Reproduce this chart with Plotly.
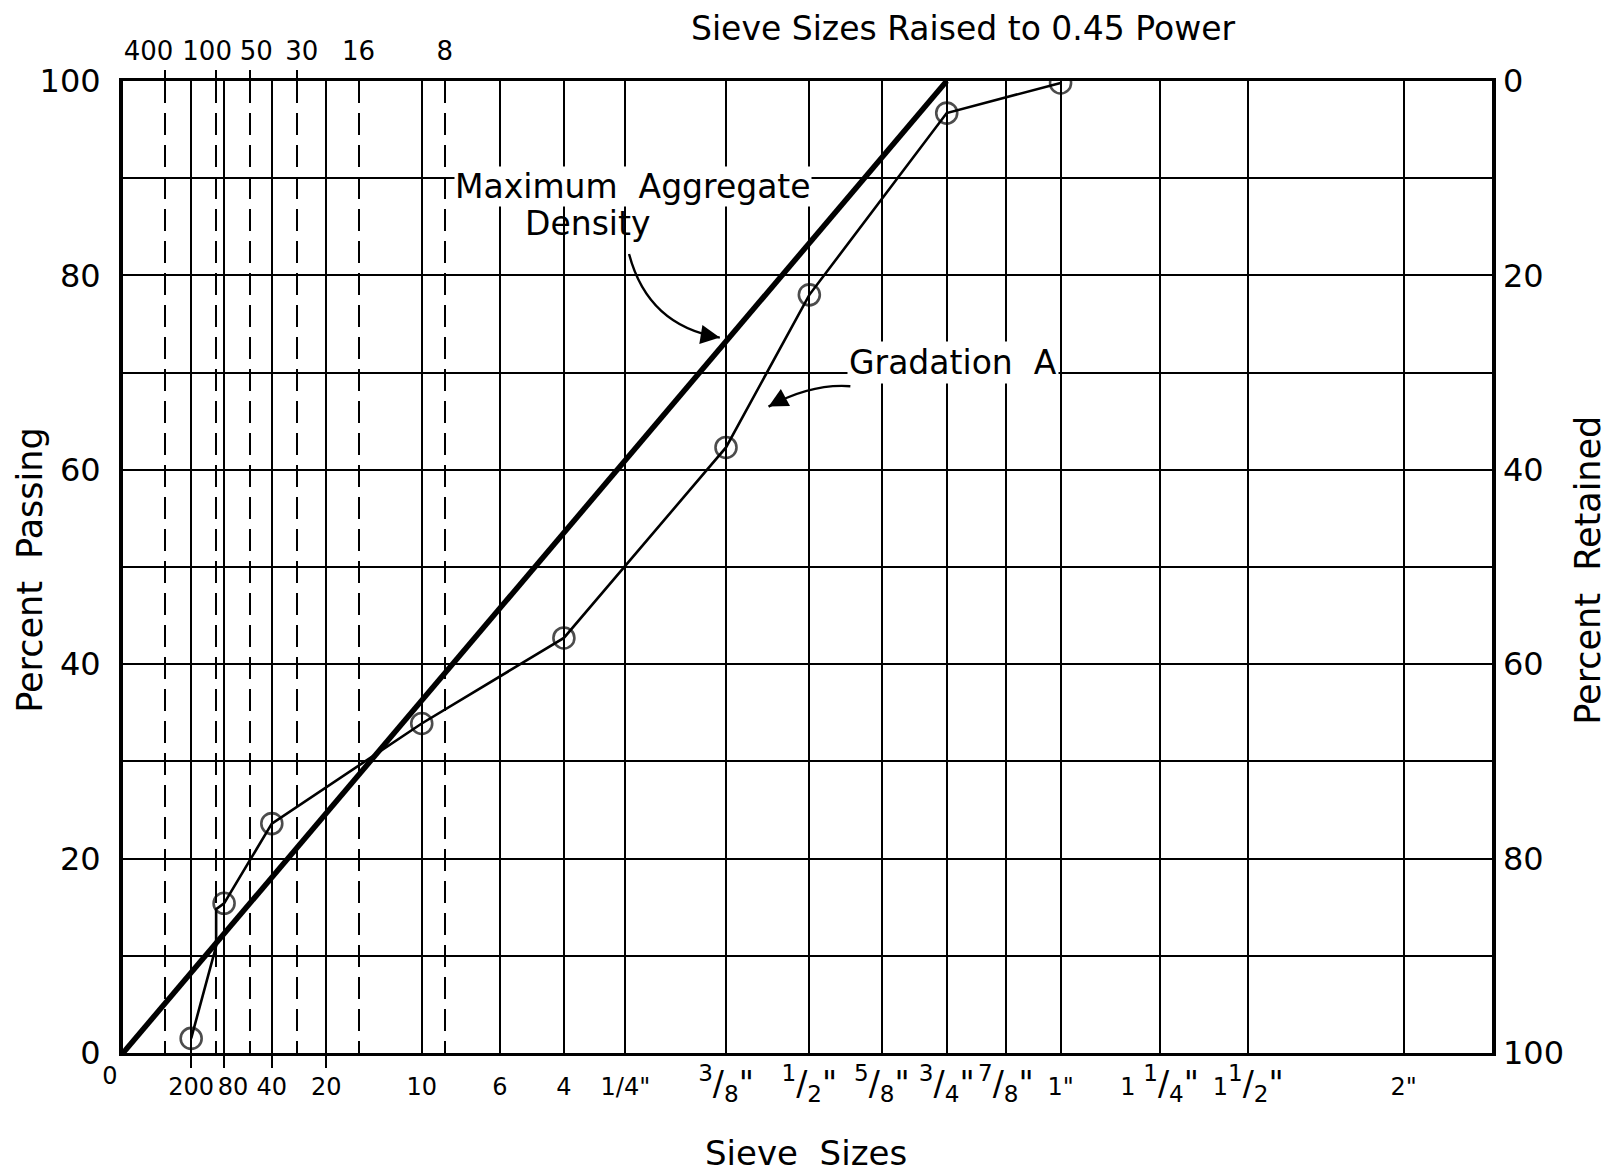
import numpy as np
import plotly.graph_objects as go

POWER = 0.45


def frac(a, b, pre=""):
    return f'{pre}<span style="font-size:33px"><sup>{a}</sup>/<sub>{b}</sub>"</span>'


# Bottom axis sieves (solid grid lines)
bottom_labels = ["0", "200", "80", "40", "20", "10", "6", "4", '1/4"',
                 frac(3, 8), frac(1, 2), frac(5, 8), frac(3, 4), frac(7, 8), '1"',
                 frac(1, 4, "1 "), frac(1, 2, "1"), '2"']
bottom_mm = [0, 0.075, 0.180, 0.425, 0.850, 2.00, 3.35, 4.75, 6.35,
             9.525, 12.7, 15.875, 19.05, 22.225, 25.4, 31.75, 38.1, 50.8]
bottom_tick_marks_mm = [0.075, 0.180, 0.425, 0.850]

# Top axis sieves (dashed grid lines)
top_labels = ["400", "100", "50", "30", "16", "8"]
top_mm = [0.025, 0.150, 0.300, 0.600, 1.18, 2.36]

# Maximum aggregate density line
maxden_mm = [0.0, 19.05]
maxden_pct = [0, 100]

# Gradation A
grad_mm = [0.075, 0.150, 0.150, 0.180, 0.425, 2.00, 4.75, 9.525, 12.7, 19.05, 25.4]
grad_pct = [1.5, 11.0, 14.8, 15.4, 23.6, 33.9, 42.7, 62.3, 78.0, 96.7, 99.8]
grad_marked = [1, 0, 0, 1, 1, 1, 1, 1, 1, 1, 1]

y_ticks = list(range(0, 101, 10))
y_labels = [str(v) if v % 20 == 0 else "" for v in y_ticks]
r_ticks = list(range(0, 101, 20))

X_MAX = 6.26

# label placement tweaks: (shift along axis, standoff) in pixels
top_label_shift = [-16, -9, 6, 5, 0, 0]
top_tick_shown = [True, True, True, True, False, False]
shifted_bottom = {"0": (-13, 6), "80": (9, 17)}


def px(mm):
    return (np.asarray(mm, dtype=float)) ** POWER


FONT = "DejaVu Sans"
fig = go.Figure()

fig.add_trace(go.Scatter(
    x=px(maxden_mm), y=maxden_pct, mode="lines",
    line=dict(color="black", width=5.5), showlegend=False, hoverinfo="skip"))

fig.add_trace(go.Scatter(
    x=px(grad_mm), y=grad_pct, mode="lines+markers",
    line=dict(color="black", width=2.6),
    marker=dict(symbol="circle-open", size=[21 if m else 0 for m in grad_marked],
                color="black", line=dict(width=2.6)),
    showlegend=False, hoverinfo="skip"))

# right-hand "percent retained" axis
fig.add_trace(go.Scatter(x=[0], y=[0], xaxis="x", yaxis="y2", mode="markers",
                         marker=dict(opacity=0), showlegend=False, hoverinfo="skip"))

layout_axes = {}
bottom_main_text = [("" if lbl in shifted_bottom else lbl) for lbl in bottom_labels]

# top axis: one overlaying axis per sieve so each label can be nudged
for i, (lbl, mm, sh, tk) in enumerate(zip(top_labels, top_mm, top_label_shift, top_tick_shown)):
    n = i + 2
    layout_axes[f"xaxis{n}"] = dict(
        range=[0, X_MAX], overlaying="x", side="top",
        tickvals=[float(px(mm))], ticktext=[lbl], ticklabelshift=sh,
        showgrid=True, gridcolor="black", gridwidth=2, griddash="22px,10px",
        zeroline=False, showline=False, ticks="outside", ticklen=10,
        tickwidth=2, tickcolor="black" if tk else "rgba(0,0,0,0)",
        tickfont=dict(size=26), tickangle=0, automargin=False)
    fig.add_trace(go.Scatter(x=[0], y=[0], xaxis=f"x{n}", yaxis="y", mode="markers",
                             marker=dict(opacity=0), showlegend=False, hoverinfo="skip"))

n = len(top_labels) + 2
for lbl, (sh, so) in shifted_bottom.items():
    idx = bottom_labels.index(lbl)
    layout_axes[f"xaxis{n}"] = dict(
        range=[0, X_MAX], overlaying="x", side="bottom",
        tickvals=[float(px(bottom_mm[idx]))], ticktext=[lbl], ticklabelshift=sh,
        showgrid=False, zeroline=False, showline=False, ticks="",
        tickfont=dict(size=24), ticklabelstandoff=so, tickangle=0, automargin=False)
    fig.add_trace(go.Scatter(x=[0], y=[0], xaxis=f"x{n}", yaxis="y", mode="markers",
                             marker=dict(opacity=0), showlegend=False, hoverinfo="skip"))
    n += 1

# page body has a small margin: keep the figure inside the window
fig.update_layout(
    template="none",
    width=1604, height=1167,
    margin=dict(l=115, r=120, t=73, b=122, autoexpand=False),
    paper_bgcolor="white", plot_bgcolor="white",
    font=dict(family=FONT, color="black", size=28),
    xaxis=dict(
        range=[0, X_MAX], tickvals=px(bottom_mm).tolist(), ticktext=bottom_main_text,
        showgrid=True, gridcolor="black", gridwidth=2, zeroline=False,
        showline=True, linecolor="black", linewidth=3, mirror=True,
        ticks="", tickfont=dict(size=24), ticklabelstandoff=10, tickangle=0,
        automargin=False,
        minor=dict(tickvals=px(bottom_tick_marks_mm).tolist(), ticks="outside",
                   ticklen=12, tickwidth=2, tickcolor="black", showgrid=False),
    ),
    yaxis=dict(
        range=[0, 100], tickvals=y_ticks, ticktext=y_labels,
        showgrid=True, gridcolor="black", gridwidth=2, zeroline=False,
        showline=True, linecolor="black", linewidth=4, mirror=True,
        ticks="", tickfont=dict(size=32), ticklabelstandoff=12, automargin=False,
    ),
    yaxis2=dict(
        range=[100, 0], overlaying="y", side="right", tickvals=r_ticks,
        showgrid=False, zeroline=False, showline=False, ticks="",
        tickfont=dict(size=32), ticklabelstandoff=10, automargin=False,
    ),
    **layout_axes,
)

# Axis titles
fig.add_annotation(text="Sieve Sizes Raised to 0.45 Power", xref="paper", yref="paper",
                   x=0.6136, y=1.0535, showarrow=False, font=dict(size=33),
                   xanchor="center", yanchor="middle", borderpad=0)
fig.add_annotation(text="Sieve  Sizes", xref="paper", yref="paper",
                   x=0.499, y=-0.103, showarrow=False, font=dict(size=34),
                   xanchor="center", yanchor="middle")
fig.add_annotation(text="Percent  Passing", xref="paper", yref="paper",
                   x=-0.068, y=0.497, showarrow=False, textangle=-90,
                   font=dict(size=35), xanchor="center", yanchor="middle")
fig.add_annotation(text="Percent  Retained", xref="paper", yref="paper",
                   x=1.07, y=0.497, showarrow=False, textangle=-90,
                   font=dict(size=35), xanchor="center", yanchor="middle")

# Labels with white background
fig.add_annotation(text="Maximum  Aggregate", x=2.333, y=89.1, showarrow=False,
                   bgcolor="white", borderpad=0, font=dict(size=33),
                   xanchor="center", yanchor="middle")
fig.add_annotation(text="Density", x=2.123, y=85.3, showarrow=False,
                   font=dict(size=33), xanchor="center", yanchor="middle")
fig.add_annotation(text="Gradation  A", x=3.795, y=71.0, showarrow=False,
                   bgcolor="white", font=dict(size=33), xanchor="center", yanchor="middle")


def curved_arrow(p0, c, p1):
    fig.add_shape(type="path", xref="x", yref="y",
                  path=f"M {p0[0]},{p0[1]} Q {c[0]},{c[1]} {p1[0]},{p1[1]}",
                  line=dict(color="black", width=2.4))
    t = 0.25
    ax = p1[0] + t * (c[0] - p1[0])
    ay = p1[1] + t * (c[1] - p1[1])
    fig.add_annotation(x=p1[0], y=p1[1], ax=ax, ay=ay, axref="x", ayref="y",
                       xref="x", yref="y", text="", showarrow=True,
                       arrowhead=2, arrowsize=1.6, arrowwidth=2.4, arrowcolor="black")


curved_arrow((2.314, 82.2), (2.401, 74.8), (2.729, 73.6))
curved_arrow((3.326, 68.6), (3.148, 68.9), (2.952, 66.5))

fig.write_html("out.html")
